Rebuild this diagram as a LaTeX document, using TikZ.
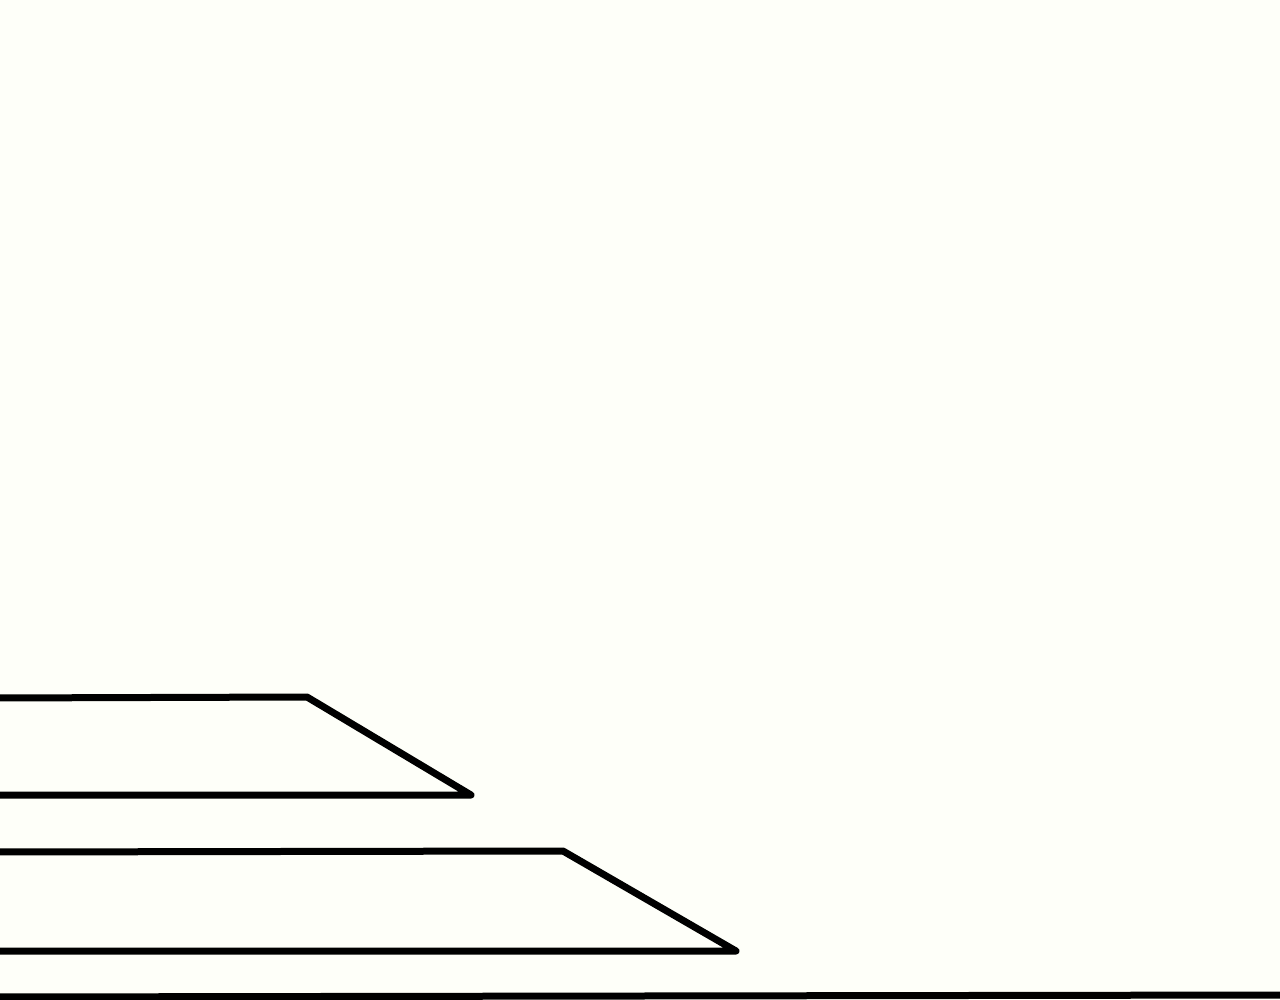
\documentclass[tikz,border=0pt]{standalone}
\definecolor{paper}{RGB}{254,255,249}
\begin{document}
\begin{tikzpicture}[x=1pt,y=-1pt,
  stroke/.style={draw=black,line width=7pt,line join=round,line cap=round}]
\fill[paper] (0,0) rectangle (1280,1000);
\useasboundingbox (0,0) rectangle (1280,1000);
% upper ramp
\coordinate (a1) at (-8,698);
\coordinate (a2) at (307,697);
\coordinate (a3) at (471,795);
\coordinate (a4) at (-8,795);
\draw[stroke] (a1) -- (a2) -- (a3) -- (a4);
% lower ramp
\coordinate (b1) at (-8,852);
\coordinate (b2) at (563,851);
\coordinate (b3) at (736,951);
\coordinate (b4) at (-8,951);
\draw[stroke] (b1) -- (b2) -- (b3) -- (b4);
% ground line
\coordinate (g1) at (-8,997);
\coordinate (g2) at (1288,995);
\draw[stroke] (g1) -- (g2);
\end{tikzpicture}
\end{document}
